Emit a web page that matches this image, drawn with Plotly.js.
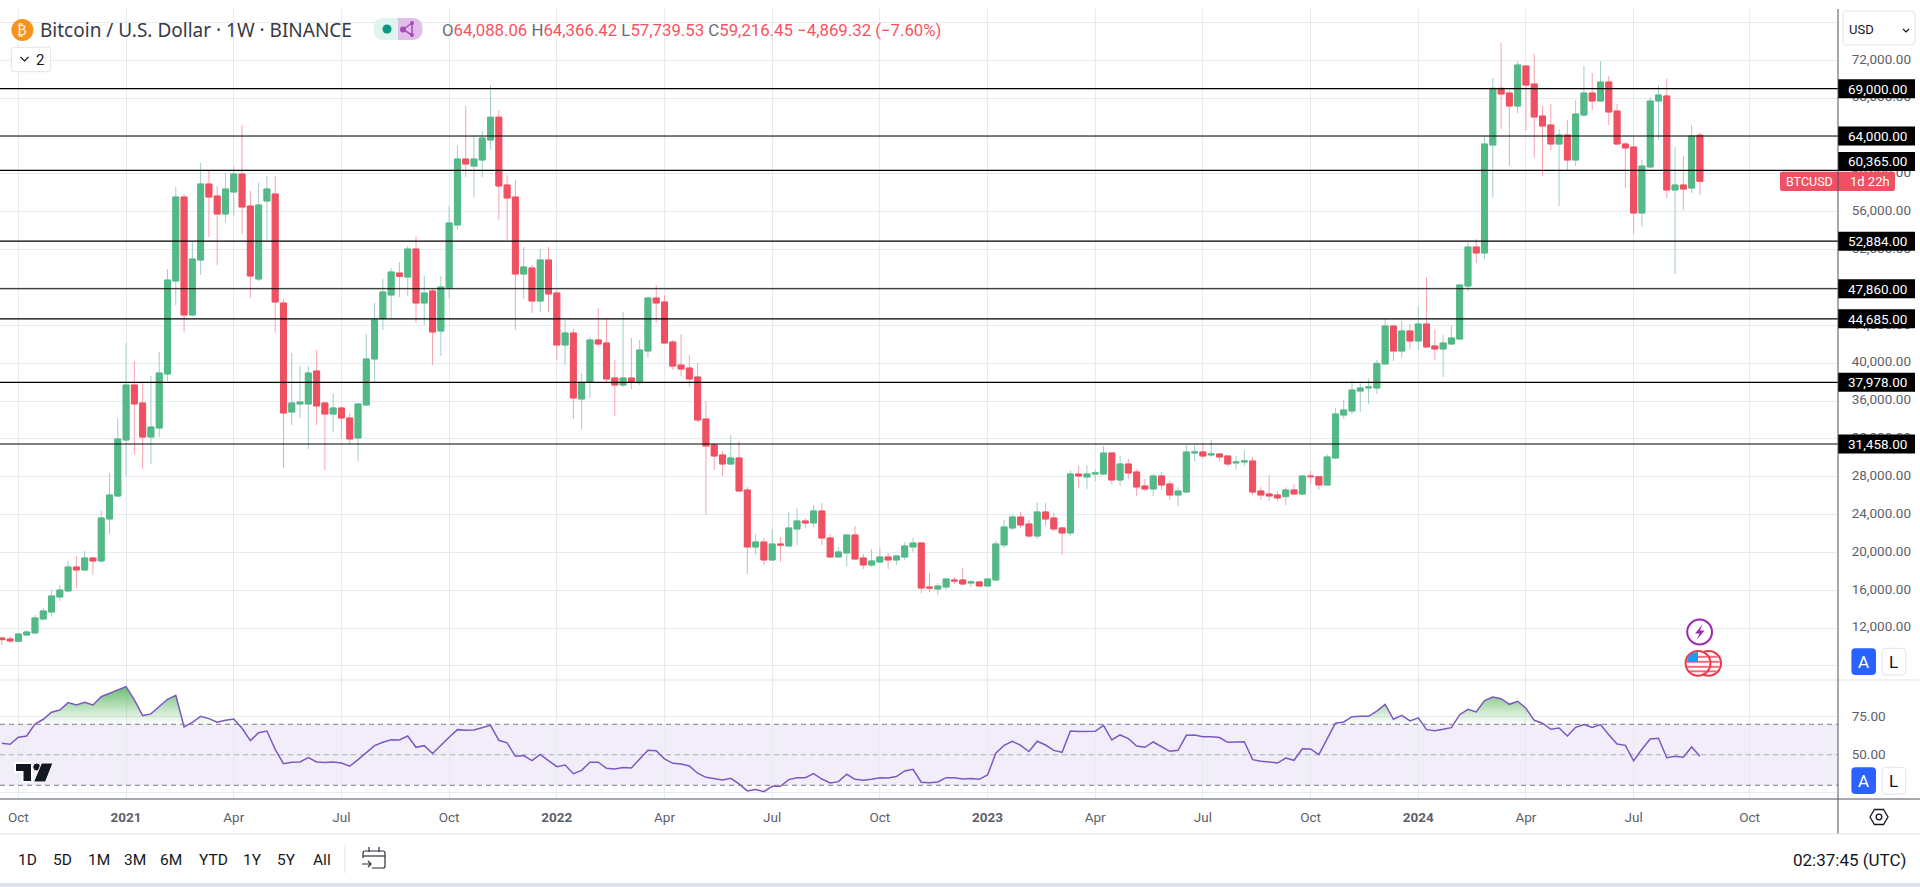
<!DOCTYPE html>
<html><head><meta charset="utf-8">
<style>html,body{margin:0;padding:0;background:#fff;overflow:hidden}#chart{width:1920px;height:887px}</style>
<script src="https://cdn.plot.ly/plotly-3.0.1.min.js"></script>
</head><body><div id="chart"></div>
<script>
const weekStarts = [
'2020-09-21','2020-09-28','2020-10-05','2020-10-12','2020-10-19','2020-10-26','2020-11-02','2020-11-09','2020-11-16','2020-11-23','2020-11-30','2020-12-07','2020-12-14','2020-12-21','2020-12-28',
'2021-01-04','2021-01-11','2021-01-18','2021-01-25','2021-02-01','2021-02-08','2021-02-15','2021-02-22','2021-03-01','2021-03-08','2021-03-15','2021-03-22','2021-03-29','2021-04-05','2021-04-12','2021-04-19','2021-04-26','2021-05-03','2021-05-10','2021-05-17','2021-05-24','2021-05-31','2021-06-07','2021-06-14','2021-06-21','2021-06-28','2021-07-05','2021-07-12','2021-07-19','2021-07-26','2021-08-02','2021-08-09','2021-08-16','2021-08-23','2021-08-30','2021-09-06','2021-09-13','2021-09-20','2021-09-27','2021-10-04','2021-10-11','2021-10-18','2021-10-25','2021-11-01','2021-11-08','2021-11-15','2021-11-22','2021-11-29','2021-12-06','2021-12-13','2021-12-20','2021-12-27',
'2022-01-03','2022-01-10','2022-01-17','2022-01-24','2022-01-31','2022-02-07','2022-02-14','2022-02-21','2022-02-28','2022-03-07','2022-03-14','2022-03-21','2022-03-28','2022-04-04','2022-04-11','2022-04-18','2022-04-25','2022-05-02','2022-05-09','2022-05-16','2022-05-23','2022-05-30','2022-06-06','2022-06-13','2022-06-20','2022-06-27','2022-07-04','2022-07-11','2022-07-18','2022-07-25','2022-08-01','2022-08-08','2022-08-15','2022-08-22','2022-08-29','2022-09-05','2022-09-12','2022-09-19','2022-09-26','2022-10-03','2022-10-10','2022-10-17','2022-10-24','2022-10-31','2022-11-07','2022-11-14','2022-11-21','2022-11-28','2022-12-05','2022-12-12','2022-12-19','2022-12-26',
'2023-01-02','2023-01-09','2023-01-16','2023-01-23','2023-01-30','2023-02-06','2023-02-13','2023-02-20','2023-02-27','2023-03-06','2023-03-13','2023-03-20','2023-03-27','2023-04-03','2023-04-10','2023-04-17','2023-04-24','2023-05-01','2023-05-08','2023-05-15','2023-05-22','2023-05-29','2023-06-05','2023-06-12','2023-06-19','2023-06-26','2023-07-03','2023-07-10','2023-07-17','2023-07-24','2023-07-31','2023-08-07','2023-08-14','2023-08-21','2023-08-28','2023-09-04','2023-09-11','2023-09-18','2023-09-25','2023-10-02','2023-10-09','2023-10-16','2023-10-23','2023-10-30','2023-11-06','2023-11-13','2023-11-20','2023-11-27','2023-12-04','2023-12-11','2023-12-18','2023-12-25',
'2024-01-01','2024-01-08','2024-01-15','2024-01-22','2024-01-29','2024-02-05','2024-02-12','2024-02-19','2024-02-26','2024-03-04','2024-03-11','2024-03-18','2024-03-25','2024-04-01','2024-04-08','2024-04-15','2024-04-22','2024-04-29','2024-05-06','2024-05-13','2024-05-20','2024-05-27','2024-06-03','2024-06-10','2024-06-17','2024-06-24','2024-07-01','2024-07-08','2024-07-15','2024-07-22','2024-07-29','2024-08-05','2024-08-12','2024-08-19','2024-08-26'];
const openPrices = [
10960,10853,10607,11277,11488,12967,13707,15292,15926,18462,
18145,19413,19096,23534,25964,31881,37692,35790,32198,33149,
38854,48680,57556,45087,50899,58930,57662,55760,58084,59986,
56605,48892,57133,57873,46356,34839,35684,35684,39171,35790,
34628,35262,34205,32092,35579,40439,44735,47201,49526,49103,
52062,46356,47624,43397,47940,54597,61571,60831,61465,63579,
65990,58824,57556,49420,50054,46567,50899,47413,41918,43186,
36213,37974,42447,42130,38432,37692,38432,37938,41284,46884,
46461,42235,39804,39487,38537,34099,31356,30296,29345,29979,
26598,20575,21104,19202,20892,20681,22477,23322,23111,24378,
21526,19518,19941,21843,19413,18673,18990,19518,19202,19518,
20575,20998,16347,16137,16347,17087,17087,16771,16877,16454,
17087,20786,22583,23744,23005,21737,24273,23639,22583,22054,
28288,27971,28288,28288,30507,27654,29345,28500,27020,26703,
28077,27232,26069,26386,30507,30613,30296,30402,30190,29451,
29556,29662,26492,26175,26069,25893,26597,26175,28077,28006,
27126,29978,34522,34945,37058,37375,37375,39911,43926,41284,
43398,42341,44137,41813,41495,42024,42553,48152,52273,51639,
63050,69038,68544,67171,71398,69496,66115,65164,63156,64107,
61466,66220,68544,67699,69707,66643,63156,62839,55865,60726,
67699,68228,58296,58824,58507,64088.06];
const closePrices = [
10784,10642,11382,11593,13073,13812,15398,16032,18462,18145,
19413,19096,23639,26069,31986,37692,35684,32198,33254,38960,
48786,57556,45087,51005,58930,57556,55760,58401,59986,56500,
49209,56711,58401,46462,34733,35790,35896,38960,35473,34628,
35262,34205,31986,35684,40439,44560,47518,49632,49174,52062,
46356,47413,43291,48046,54809,61571,61043,61571,63790,65990,
58718,57450,49420,50160,46567,50899,47307,41918,43186,36319,
37974,42447,42024,38326,37692,38432,37974,41390,46884,46356,
42129,39699,39382,38325,33993,31247,30190,29345,29979,26492,
20575,21104,19202,20892,20786,22583,23322,23111,24378,21526,
19518,20047,21843,19307,18673,19096,19518,19202,19624,20681,
20998,16242,16242,16454,17193,16982,16666,16877,16454,17193,
20892,22688,23744,22900,21737,24273,23533,22477,22054,28288,
28077,28288,28394,30507,27654,29345,28394,26915,26703,28077,
27126,26069,26492,30613,30613,30190,30402,30084,29345,29556,
29662,26386,26069,25964,25753,26597,26175,28077,28006,27126,
30084,34628,35050,37163,37375,37480,39981,43926,41284,43398,
42341,44137,41707,41495,42130,42658,48257,52273,51639,63156,
69038,68439,67171,71503,69390,66009,65058,63156,64107,61466,
66326,68544,67699,69707,66537,63156,62733,55865,60832,67699,
68334,58296,58824,58401,64001,59216.45];
const highPrices = [
11100,11100,11450,11805,13390,14130,16030,16560,19095,19625,
20153,19518,24378,28394,34205,42130,40228,37868,38643,41179,
49949,58613,57838,52836,61149,60303,58718,60092,60831,65164,
58190,59035,59775,59775,46779,41073,39700,39700,41390,35896,
36847,35368,34733,35790,43081,46356,48892,50054,50688,52379,
53435,49209,47835,49209,56605,62945,67171,64001,64530,69390,
66749,59880,59352,52273,50371,52062,52273,47730,44560,43608,
38960,42764,45828,44665,40334,45405,42658,42447,47025,48257,
47201,42447,43080,40861,40016,35999,31528,30718,32409,31775,
26915,21949,21526,22477,21632,24273,24695,23639,25013,25224,
21949,20575,21900,22794,19835,20364,20470,19941,19730,21104,
21526,21104,17828,16770,17300,17405,18357,17087,16982,17230,
21210,23428,23956,24273,23428,25330,25224,24168,22688,28711,
29134,29239,28817,31247,30613,30190,29873,28817,27760,28288,
28500,27549,26915,31353,31353,31458,31880,30507,30190,30190,
30824,30084,26915,28183,26492,26879,27200,28147,28605,28077,
30401,35262,36107,38115,37868,38397,40334,44665,43950,44454,
44137,45969,49103,43574,42975,43961,48300,52837,53119,64001,
70130,73828,68967,71926,71503,72666,67171,67382,64741,65692,
67805,71398,70658,71926,70341,67382,63367,63896,61466,68122,
69390,70024,62839,61888,65163,64366.42];
const lowPrices = [
10220,10432,10540,11240,11400,12860,13215,14870,15900,16240,
18100,17616,18990,21949,25857,28077,30401,28816,29345,32198,
38115,46144,43221,44910,49315,53330,50370,54914,55654,53647,
46884,48680,53012,43221,28922,33466,34205,30930,33466,28710,
32726,31986,31458,29662,35473,38009,43504,44735,46990,47096,
44278,44032,39805,40756,46884,54069,59669,57591,59669,62522,
55126,53012,43503,46779,45300,45405,45405,40335,39770,34100,
33043,36319,41707,38009,34416,37481,37270,37691,40580,44243,
42024,39276,38643,37480,33783,23956,28711,28077,29239,26480,
17722,19730,18673,19200,18990,20681,20786,22583,22688,20786,
19518,19500,18567,19300,18250,18462,18950,18250,18673,19202,
20047,15714,15820,15503,16031,16666,16560,16349,16349,16430,
17080,20470,22371,22583,21526,21420,22794,22266,19730,21737,
26809,26703,27549,28183,27232,27020,27760,25964,26492,25964,
26598,25541,24907,26380,29662,29873,30084,29662,29028,28710,
29133,26069,25541,25435,25435,25012,26100,26069,27231,26597,
27100,29900,34099,34627,34839,35684,36741,39900,40228,40544,
41496,41390,41700,40334,38537,42000,42500,47624,50582,51005,
57556,64741,60832,66432,64635,61677,59775,62522,56605,60409,
60832,66044,66749,67690,65164,63100,58507,53647,54387,60700,
63579,57450,49420,56182,57978,57739.53];
const rsiValues = [
57.5,56.9,61.5,62.3,70.2,73.3,77.9,79.4,84.2,82.7,
84.4,82.7,88.1,90.3,93,94.7,86,75.7,76.8,81.6,
86.4,89,68.3,71.3,75.2,73.7,71.3,72.6,73.5,67.4,
59.3,64.5,65.6,53.6,44.2,45.1,45.3,48.1,45.3,44.9,
45.3,44.6,42.5,46.8,51.6,56,58.2,59.9,59.7,62.3,
54.9,56,50.8,56.4,61.5,66.5,66.1,66.3,68,69.3,
59.5,57.8,49,49.5,46.2,50.3,46.2,42.2,43.3,37.6,
39.8,45.1,45.1,41.1,40.7,41.6,41.4,47,53,52.7,
47.3,44.4,44,42.7,37.9,35.2,34.4,33.5,34.6,30.9,
26.3,27.2,25.8,29.3,29.3,33.7,35,35,37.6,34.1,
31.5,32.4,37.2,33.9,33.3,33.9,35,34.8,35.7,39.4,
40.5,32,31.7,32.2,35,35,34.1,34.4,33.9,36.8,
51,56.2,58.9,56.2,52.1,58.9,56.4,52.9,51.6,65.6,
65.2,65.2,65.4,69.3,59.7,63,60.6,55.8,54.9,58.4,
55.4,52.3,52.9,62.8,63,61.9,61.9,61.3,58.2,58.4,
58.6,46.8,45.7,45.3,44.6,47.9,46.4,54,53.8,50.1,
60.2,70.7,71.5,75,75.2,75.2,78.7,83.1,73.3,75.9,
72.2,74.2,66.5,65.8,66.7,67.8,76.3,79.8,78.1,85.5,
87.9,86.8,83.1,85.1,80.5,72.6,70.7,66.7,67.6,62.3,
68,69.8,68,69.8,63.2,57.1,56.2,46,53.6,60.4,
60.8,48.1,49,48.4,55.1,49];
const levels = [69000,64000,60365,52884,47860,44685,37978,31458];
const levelLabels = ['69,000.00','64,000.00','60,365.00','52,884.00','47,860.00','44,685.00','37,978.00','31,458.00'];
const levelShift = [0,0,-9,0,0,0,0,0];
const priceTicks = [8000,12000,16000,20000,24000,28000,32000,36000,40000,44000,48000,52000,56000,60000,64000,68000,72000,76000];
const priceLabels = ['','12,000.00','16,000.00','20,000.00','24,000.00','28,000.00','32,000.00','36,000.00','40,000.00','44,000.00','','52,000.00','56,000.00','60,000.00','','68,000.00','72,000.00',''];
const timeTicks = ['2020-10-05','2021-01-04','2021-04-05','2021-07-05','2021-10-04','2022-01-03','2022-04-04','2022-07-04','2022-10-03','2023-01-02','2023-04-03','2023-07-03','2023-10-02','2024-01-01','2024-04-01','2024-07-01','2024-10-07'];
const timeLabels = ['Oct','<b>2021</b>','Apr','Jul','Oct','<b>2022</b>','Apr','Jul','Oct','<b>2023</b>','Apr','Jul','Oct','<b>2024</b>','Apr','Jul','Oct'];
const rangeButtons = ['1D','5D','1M','3M','6M','YTD','1Y','5Y','All'];
const rangeCenters = [27.8,62.4,98.8,135,171.4,213,252,286.5,321.6];

const FONT='Roboto, "Liberation Sans", sans-serif';
const GREEN='#53b987', RED='#ef5062', GREENW='#a3cdc6', REDW='#f7a3ae', GRID='#e4ecf2', INK='#131722', LINE='#e0e3eb';
const PW=1838, PT=9, PB=799, SPLIT=680;
const X=v=>v/PW, Y=v=>(PB-v)/(PB-PT);
const pp=s=>s.replace(/(-?[\d.]+)[ ,](-?[\d.]+)/g,(m,a,b)=>X(+a).toFixed(5)+','+Y(+b).toFixed(5));
const shapes=[], ann=[];
function path(d,o){shapes.push(Object.assign({type:'path',xref:'paper',yref:'paper',path:pp(d),layer:'above',line:{width:0}},o));}
function rr(x0,y0,x1,y1,r){return `M${x0+r} ${y0}L${x1-r} ${y0}Q${x1} ${y0} ${x1} ${y0+r}L${x1} ${y1-r}Q${x1} ${y1} ${x1-r} ${y1}L${x0+r} ${y1}Q${x0} ${y1} ${x0} ${y1-r}L${x0} ${y0+r}Q${x0} ${y0} ${x0+r} ${y0}Z`;}
function circ(cx,cy,r,fill,stroke,w){shapes.push({type:'circle',xref:'paper',yref:'paper',x0:X(cx-r),x1:X(cx+r),y0:Y(cy+r),y1:Y(cy-r),layer:'above',fillcolor:fill,line:{color:stroke||fill,width:stroke?(w||1):0}});}
function seg(x0,y0,x1,y1,color,w,layer,dash){shapes.push({type:'line',xref:'paper',yref:'paper',x0:X(x0),x1:X(x1),y0:Y(y0),y1:Y(y1),layer:layer||'above',line:{color,width:w||1,dash:dash||'solid'}});}
function txt(x,y,text,size,color,anchor,extra){ann.push(Object.assign({xref:'paper',yref:'paper',x:X(x),y:Y(y),text,showarrow:false,xanchor:anchor||'left',yanchor:'middle',font:{family:FONT,size,color},borderpad:0},extra||{}));}

// RSI band + guide lines
shapes.push({type:'rect',xref:'paper',x0:0,x1:1,yref:'y2',y0:30,y1:70,layer:'below',fillcolor:'rgba(126,87,194,0.1)',line:{width:0}});
[[70,'#787b86'],[30,'#787b86'],[50,'rgba(120,123,134,0.55)']].forEach(([v,c])=>shapes.push({type:'line',xref:'paper',x0:0,x1:1,yref:'y2',y0:v,y1:v,layer:'above',line:{color:c,width:1,dash:'5px,4px'}}));
// horizontal levels
levels.forEach((v,i)=>{
  shapes.push({type:'line',xref:'paper',x0:0,x1:1,yref:'y',y0:v,y1:v,layer:'above',line:{color:'#000',width:1.2}});
  shapes.push({type:'rect',xref:'paper',x0:1,x1:X(1915),yref:'y',ysizemode:'pixel',yanchor:v,y0:9.5-levelShift[i],y1:-9.5-levelShift[i],layer:'above',fillcolor:'#000',line:{width:0}});
  ann.push({xref:'paper',yref:'y',x:X(1909),y:v,yshift:-levelShift[i],text:levelLabels[i],showarrow:false,xanchor:'right',yanchor:'middle',font:{family:FONT,size:13.5,color:'#fff'}});
});
// price tag
shapes.push({type:'path',xref:'paper',yref:'paper',path:pp(rr(1780,171.7,1895,191,2)),layer:'above',fillcolor:RED,line:{width:0}});
txt(1785,181.5,'BTCUSD',12.5,'#fff');txt(1891,181.5,'1d 22h',13,'#fff','right');

// frame
seg(0,SPLIT,1920,SPLIT,LINE,1);
seg(0,PB,1920,PB,'#50535e',1);
seg(1838,9,1838,834,'#50535e',1);
seg(0,834,1920,834,LINE,1);
path('M0 883L1920 883L1920 887L0 887Z',{fillcolor:LINE});

// header
circ(22.4,30,11,'#f7931a');
txt(22.4,30,'₿',15,'#fff','center',{font:{family:'"DejaVu Sans"',size:14,color:'#fff'}});
txt(39,30,'Bitcoin / U.S. Dollar · 1W · BINANCE',19,'#363a45','left',{font:{family:'"Noto Sans", Roboto, sans-serif',size:19,color:'#363a45'}});
path(rr(373.5,18,422.5,40,11),{fillcolor:'#dff3ef'});
path('M398 18L411.5 18Q422.5 18 422.5 29Q422.5 40 411.5 40L398 40Z',{fillcolor:'#e1bee7'});
circ(387,29,4.5,'#089981');
seg(403,29.5,412,23,'#ab47bc',1.5);seg(403,29.5,412,35,'#ab47bc',1.5);seg(412,23,412,35,'#ab47bc',1.5);
circ(403,29.5,3,'#ab47bc');circ(412,23,2,'#ab47bc');circ(412,35,2,'#ab47bc');
const redNum=t=>`<span style="color:#f7525f">${t}</span>`;
txt(441,30,`O${redNum('64,088.06')} H${redNum('64,366.42')} L${redNum('57,739.53')} C${redNum('59,216.45')} ${redNum('−4,869.32 (−7.60%)')}`,16.8,'#6a6d78');
path(rr(11.4,47.3,50.6,71.7,3),{fillcolor:'#fff',line:{color:LINE,width:1}});
path('M20.5 57L24.5 61L28.5 57',{line:{color:INK,width:1.2}});
txt(39.6,59.5,'2',15,INK,'center');
path(rr(1843,11,1915,45,4),{fillcolor:'#fff',line:{color:LINE,width:1}});
txt(1848,29,'USD',13,INK);
path('M1903 29L1906 32L1909 29',{line:{color:INK,width:1.2}});

// A / L
[[648.3,675],[767.3,794]].forEach(([a,b])=>{
  path(rr(1851.4,a,1876,b,4),{fillcolor:'#2962ff'});
  txt(1863.7,(a+b)/2+.5,'A',17,'#fff','center');
  path(rr(1882,a,1905.7,b,4),{fillcolor:'#fff',line:{color:LINE,width:1}});
  txt(1893.8,(a+b)/2+.5,'L',17,INK,'center');
});
// settings hexagon
path('M1870 817L1874.5 809.5L1883.5 809.5L1888 817L1883.5 824.5L1874.5 824.5Z',{line:{color:INK,width:1.3}});
circ(1879,817,2.8,'#fff',INK,1.3);
// event icons
circ(1699.6,632,12.4,'#fff','#9c27b0',2);
path('M1702.5 624.5L1695 633.5L1699.5 633.5L1696.5 640L1704.5 630.5L1700 630.5Z',{fillcolor:'#9c27b0'});
[1708.6,1698].forEach(cx=>{
  circ(cx,663.3,12.4,'#fff','#f23645',2);
  [[-6.5,9],[-1.5,11],[3.5,11],[8,8]].forEach(([dy,h])=>seg(cx-h,663.3+dy,cx+h,663.3+dy,'#f56a78',2));
});
path('M1689 656Q1691 652.5 1698 652L1698 662L1687 662Q1687 659 1689 656Z',{fillcolor:'#2196f3'});
// TradingView mark
path('M15 763L32 763L32 782L22.5 782L22.5 772L15 772Z',{fillcolor:INK,line:{color:'#fff',width:2}});
circ(36.7,767,4,INK,'#fff',1);
path('M41.5 763L53 763L45.5 782L33.5 782Z',{fillcolor:INK,line:{color:'#fff',width:1}});
// bottom toolbar
rangeButtons.forEach((t,i)=>txt(rangeCenters[i],859.5,t,15.5,INK,'center'));
seg(345,845,345,873,LINE,1);
path('M363 858L363 853Q363 851 365 851L383 851Q385 851 385 853L385 866Q385 868 383 868L372 868',{line:{color:'#2a2e39',width:1.2}});
seg(363,856,385,856,'#2a2e39',1.2);seg(369,847,369,852,'#2a2e39',1.2);seg(379,847,379,852,'#2a2e39',1.2);
path('M362 864L371 864M368 861L371 864L368 867',{line:{color:'#2a2e39',width:1.2}});
txt(1906.5,859.5,'02:37:45 (UTC)',17,INK,'right');

const bodyHigh=openPrices.map((o,i)=>Math.max(o,closePrices[i]));
const bodyLow=openPrices.map((o,i)=>Math.min(o,closePrices[i]));
const overbought=rsiValues.map(v=>Math.max(v,70));
const oversold=rsiValues.map(v=>Math.min(v,30));
const flat=v=>rsiValues.map(()=>v);
const traces=[
 {type:'candlestick',x:weekStarts,open:openPrices,high:highPrices,low:lowPrices,close:closePrices,xaxis:'x',yaxis:'y',hoverinfo:'skip',
  increasing:{line:{color:GREENW,width:1},fillcolor:GREENW},decreasing:{line:{color:REDW,width:1},fillcolor:REDW}},
 {type:'candlestick',x:weekStarts,open:openPrices,high:bodyHigh,low:bodyLow,close:closePrices,xaxis:'x',yaxis:'y',hoverinfo:'skip',
  increasing:{line:{color:GREEN,width:1},fillcolor:GREEN},decreasing:{line:{color:RED,width:1},fillcolor:RED}},
 {type:'scatter',mode:'lines',x:weekStarts,y:flat(70),xaxis:'x',yaxis:'y2',line:{width:0},hoverinfo:'skip'},
 {type:'scatter',mode:'lines',x:weekStarts,y:overbought,xaxis:'x',yaxis:'y2',line:{width:0},fill:'tonexty',hoverinfo:'skip',
  fillgradient:{type:'vertical',start:70,stop:100,colorscale:[[0,'rgba(76,175,80,0)'],[1,'rgba(76,175,80,1)']]}},
 {type:'scatter',mode:'lines',x:weekStarts,y:flat(30),xaxis:'x',yaxis:'y2',line:{width:0},hoverinfo:'skip'},
 {type:'scatter',mode:'lines',x:weekStarts,y:oversold,xaxis:'x',yaxis:'y2',line:{width:0},fill:'tonexty',hoverinfo:'skip',
  fillgradient:{type:'vertical',start:0,stop:30,colorscale:[[0,'rgba(255,82,82,1)'],[1,'rgba(255,82,82,0)']]}},
 {type:'scatter',mode:'lines',x:weekStarts,y:rsiValues,xaxis:'x',yaxis:'y2',line:{color:'#7e57c2',width:1.5},hoverinfo:'skip'}
];
const layout={
 width:1920,height:887,margin:{l:0,r:82,t:PT,b:887-PB,pad:0},paper_bgcolor:'#fff',plot_bgcolor:'#fff',showlegend:false,hovermode:false,dragmode:false,
 boxgap:0.28,boxgroupgap:0,
 font:{family:FONT,size:13,color:'#5d606b'},
 xaxis:{type:'date',anchor:'y2',range:['2020-09-19 10:48','2024-12-20 17:00'],tickmode:'array',tickvals:timeTicks,ticktext:timeLabels,
  showgrid:true,gridcolor:GRID,gridwidth:1,zeroline:false,showline:false,ticks:'outside',ticklen:6,tickcolor:'rgba(0,0,0,0)',tickangle:0,
  tickfont:{family:FONT,size:13.5,color:'#5d606b'},rangeslider:{visible:false}},
 yaxis:{domain:[(PB-SPLIT)/(PB-PT),1],range:[6520,77421],side:'right',anchor:'x',tickmode:'array',tickvals:priceTicks,ticktext:priceLabels,
  showgrid:true,gridcolor:GRID,zeroline:false,showline:false,ticks:'outside',ticklen:10,tickcolor:'rgba(0,0,0,0)',tickfont:{family:FONT,size:13.5,color:'#5d606b'}},
 yaxis2:{domain:[0,(PB-SPLIT)/(PB-PT)],range:[21,99.05],side:'right',anchor:'x',tickmode:'array',tickvals:[25,50,75],ticktext:['','50.00','75.00'],
  showgrid:true,gridcolor:GRID,zeroline:false,showline:false,ticks:'outside',ticklen:10,tickcolor:'rgba(0,0,0,0)',tickfont:{family:FONT,size:13.5,color:'#5d606b'}},
 shapes,annotations:ann
};
Plotly.newPlot('chart',traces,layout,{staticPlot:true,displayModeBar:false}).then(()=>{
  document.querySelectorAll('.ytick text').forEach(t=>t.setAttribute('y',String(parseFloat(t.getAttribute('y'))-1.5)));
  document.querySelectorAll('.y2tick text').forEach(t=>t.setAttribute('y',String(parseFloat(t.getAttribute('y'))-0.5)));
});
</script></body></html>
